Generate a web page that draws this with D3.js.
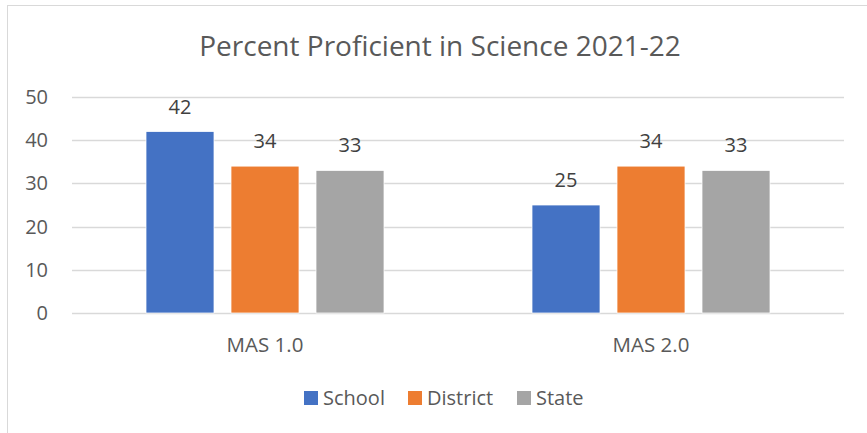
<!DOCTYPE html>
<html>
<head>
<meta charset="utf-8">
<script src="https://cdn.jsdelivr.net/npm/d3@7"></script>
<style>
  body { margin: 0; background: #fff; }
  text { font-family: "Open Sans", "Noto Sans", sans-serif; }
</style>
</head>
<body>
<div id="chart"></div>
<script>
// chart data
const categories = ['MAS 1.0', 'MAS 2.0'];
const seriesNames = ['School', 'District', 'State'];
const school = [42, 25];
const district = [34, 34];
const state = [33, 33];
const yTicks = [0, 10, 20, 30, 40, 50];
const colors = ['#4472C4', '#ED7D31', '#A5A5A5'];

const values = [school, district, state];

const W = 867, H = 433;
let margin = {top: 97, right: 23, bottom: 120, left: 72};
let width = W - margin.left - margin.right;
let height = H - margin.top - margin.bottom;

let svg = d3.select('#chart')
  .append('svg')
  .attr('width', W)
  .attr('height', H);

// chart frame
svg.append('rect')
  .attr('x', 7.5).attr('y', 5.5)
  .attr('width', 880).attr('height', 460)
  .attr('fill', 'none')
  .attr('stroke', '#D9D9D9');

// title
svg.append('text')
  .attr('x', 440).attr('y', 56)
  .attr('text-anchor', 'middle')
  .attr('fill', '#595959')
  .style('font-size', '28px')
  .text('Percent Proficient in Science 2021-22');

let g = svg.append('g')
  .attr('transform', 'translate(' + margin.left + ',' + margin.top + ')');

// scales
let x0 = d3.scaleBand().domain(categories).range([0, width]);
let x1 = d3.scaleBand().domain(seriesNames)
  .range([74, x0.bandwidth() - 74])
  .paddingInner(0.2);
let y = d3.scaleLinear().domain([0, 50]).range([height, 0]);

// gridlines
g.append('g')
  .selectAll('line')
  .data(yTicks)
  .join('line')
  .attr('x1', 0).attr('x2', width)
  .attr('y1', d => Math.round(y(d)) + 0.5)
  .attr('y2', d => Math.round(y(d)) + 0.5)
  .attr('stroke', '#D9D9D9')
  .attr('stroke-width', 1.3);

// y axis labels
let yAxis = g.append('g')
  .call(d3.axisLeft(y).tickValues(yTicks).tickSize(0).tickPadding(24));
yAxis.select('.domain').remove();
yAxis.selectAll('text')
  .attr('fill', '#595959')
  .style('font-size', '20px')
  .style('font-family', '"Open Sans", sans-serif');

// bars
let groups = g.selectAll('.group')
  .data(categories)
  .join('g')
  .attr('class', 'group')
  .attr('transform', d => 'translate(' + x0(d) + ',0)');

groups.selectAll('rect')
  .data((c, i) => seriesNames.map((s, j) => ({s: s, v: values[j][i], c: colors[j]})))
  .join('rect')
  .attr('x', d => x1(d.s))
  .attr('y', d => y(d.v))
  .attr('width', x1.bandwidth())
  .attr('height', d => height - y(d.v))
  .attr('fill', d => d.c)
  .attr('stroke', '#fff')
  .attr('stroke-width', 0.75);

// value labels
groups.selectAll('.val')
  .data((c, i) => seriesNames.map((s, j) => ({s: s, v: values[j][i]})))
  .join('text')
  .attr('class', 'val')
  .attr('x', d => x1(d.s) + x1.bandwidth() / 2)
  .attr('y', d => y(d.v) - 18)
  .attr('text-anchor', 'middle')
  .attr('fill', '#404040')
  .style('font-size', '20px')
  .text(d => d.v);

// x axis labels
let xAxis = g.append('g')
  .attr('transform', 'translate(0,' + height + ')')
  .call(d3.axisBottom(x0).tickSize(0).tickPadding(24));
xAxis.select('.domain').remove();
xAxis.selectAll('text')
  .attr('fill', '#595959')
  .style('font-size', '20.5px')
  .style('font-family', '"Open Sans", sans-serif');

// legend
let legendX = [304, 408, 517];
let legend = svg.append('g')
  .selectAll('g')
  .data(seriesNames)
  .join('g')
  .attr('transform', (d, i) => 'translate(' + legendX[i] + ',391)');
legend.append('rect')
  .attr('width', 14).attr('height', 14)
  .attr('fill', (d, i) => colors[i]);
legend.append('text')
  .attr('x', 19).attr('y', 14)
  .attr('fill', '#595959')
  .style('font-size', '20px')
  .text(d => d);
</script>
</body>
</html>
